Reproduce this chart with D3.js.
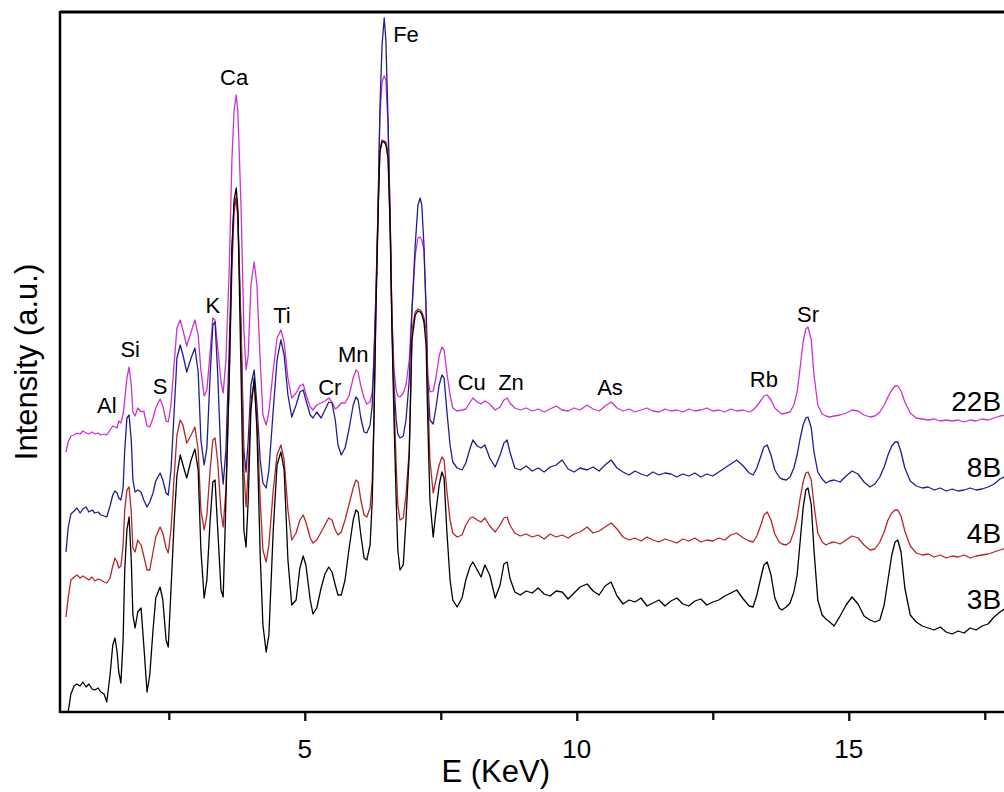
<!DOCTYPE html>
<html>
<head>
<meta charset="utf-8">
<script src="https://cdn.jsdelivr.net/npm/d3@7"></script>
<style>
  html, body { margin: 0; padding: 0; background: #ffffff; }
  svg text { font-family: "Liberation Sans", Arial, Helvetica, sans-serif; fill: #000; }
</style>
</head>
<body>
<svg id="chart" width="1004" height="792"></svg>
<script>
// XRF spectra of four samples, stacked with a vertical offset (intensity in arbitrary units)

// Energy channels (keV), shared by all four spectra
const energy = [
  0.61,0.65,0.70,0.76,0.81,0.87,0.92,0.98,1.03,1.09,
  1.14,1.20,1.25,1.31,1.36,1.42,1.47,1.51,1.55,1.58,
  1.62,1.66,1.69,1.73,1.77,1.81,1.84,1.88,1.93,1.99,
  2.04,2.10,2.15,2.21,2.26,2.34,2.39,2.45,2.49,2.54,
  2.60,2.65,2.71,2.76,2.83,2.91,2.98,3.04,3.09,3.15,
  3.20,3.26,3.31,3.35,3.40,3.46,3.50,3.55,3.61,3.66,
  3.70,3.74,3.77,3.83,3.88,3.92,3.96,4.01,4.07,4.12,
  4.18,4.23,4.29,4.34,4.42,4.49,4.56,4.62,4.69,4.76,
  4.84,4.91,4.97,5.02,5.10,5.15,5.22,5.30,5.37,5.44,
  5.50,5.56,5.61,5.67,5.74,5.81,5.89,5.94,5.98,6.03,
  6.09,6.14,6.20,6.24,6.27,6.31,6.35,6.38,6.42,6.46,
  6.49,6.53,6.57,6.60,6.64,6.68,6.71,6.75,6.81,6.86,
  6.92,6.97,7.03,7.08,7.12,7.15,7.19,7.23,7.26,7.30,
  7.36,7.41,7.47,7.52,7.56,7.61,7.67,7.72,7.80,7.89,
  7.96,8.04,8.09,8.17,8.24,8.31,8.40,8.50,8.59,8.66,
  8.72,8.77,8.86,8.96,9.07,9.18,9.29,9.40,9.51,9.62,
  9.73,9.84,9.95,10.06,10.19,10.30,10.41,10.52,10.63,10.74,
  10.85,10.96,11.07,11.18,11.29,11.40,11.51,11.62,11.73,11.84,
  11.95,12.06,12.17,12.28,12.39,12.50,12.61,12.72,12.83,12.94,
  13.06,13.17,13.24,13.31,13.39,13.44,13.50,13.57,13.64,13.72,
  13.77,13.85,13.92,13.99,14.05,14.10,14.16,14.21,14.25,14.31,
  14.36,14.43,14.51,14.58,14.65,14.73,14.84,14.95,15.06,15.17,
  15.28,15.39,15.48,15.57,15.65,15.72,15.79,15.85,15.90,15.96,
  16.03,16.13,16.24,16.35,16.46,16.57,16.68,16.79,16.90,17.01,
  17.12,17.23,17.34,17.45,17.56,17.67,17.78,17.89,18.00
];

// Sample 22B (top trace)
const counts22B = [
  260,270,276,277,279,278,281,279,278,280,
  278,279,277,278,277,282,286,285,284,291,
  289,298,312,334,345,327,300,296,304,300,
  301,286,285,294,304,313,306,291,290,307,
  350,384,392,382,366,380,392,377,342,316,
  322,360,394,392,364,330,319,352,442,552,
  602,617,600,502,382,342,357,427,450,427,
  352,297,287,300,342,374,382,370,334,314,
  319,326,328,318,305,302,307,309,311,314,
  310,303,305,309,309,316,334,342,340,326,
  314,308,310,320,352,422,512,594,630,636,
  632,587,492,400,342,322,316,315,319,327,
  352,402,457,474,475,472,462,402,337,320,
  321,334,356,365,362,340,317,304,301,302,
  303,310,314,310,308,311,308,302,305,312,
  314,309,304,302,304,301,303,300,303,306,
  302,301,304,302,307,303,301,306,310,304,
  301,303,300,302,304,301,300,303,301,302,
  300,303,301,302,304,301,302,300,303,301,
  302,300,302,306,312,316,317,312,304,300,
  298,299,300,307,320,342,370,383,385,372,
  337,307,298,296,295,296,297,299,302,301,
  297,295,296,300,307,315,322,326,326,321,
  310,299,294,293,292,293,291,292,291,292,
  290,292,291,293,292,294,296,297,298
];

// Sample 8B
const counts8B = [
  160,184,198,201,204,199,203,205,200,202,
  199,200,197,196,195,206,217,221,219,214,
  212,224,262,294,297,272,232,220,222,220,
  212,205,210,219,231,239,232,219,217,242,
  302,354,367,357,340,354,364,340,272,247,
  264,337,387,390,337,252,228,262,362,462,
  507,514,497,382,262,240,272,327,342,307,
  252,229,224,242,302,352,372,357,317,295,
  307,320,322,312,297,294,300,294,302,310,
  309,292,267,257,264,282,307,315,312,294,
  280,279,287,307,352,422,512,602,667,694,
  672,592,492,397,327,292,278,274,276,292,
  332,402,467,507,514,507,467,402,332,292,
  288,304,327,337,334,302,267,250,244,242,
  249,264,272,266,264,267,254,245,257,269,
  272,260,244,242,246,241,244,240,245,247,
  252,243,240,244,242,245,241,247,252,244,
  240,237,241,238,236,240,237,239,238,235,
  238,236,239,235,238,236,240,244,248,252,
  246,239,237,244,257,265,267,257,242,235,
  233,232,235,244,257,272,287,294,295,284,
  260,240,233,229,231,232,230,236,241,238,
  230,225,228,235,245,257,266,270,270,260,
  244,231,226,224,225,222,224,221,223,221,
  222,224,222,223,225,228,233,236,237
];

// Sample 4B
const counts4B = [
  95,114,132,135,137,134,136,134,132,135,
  131,133,132,130,129,134,146,154,150,144,
  146,167,202,222,225,200,164,160,172,167,
  156,142,142,160,175,185,179,164,159,182,
  237,277,292,287,269,277,285,262,202,182,
  197,242,272,274,250,200,185,222,332,442,
  500,515,492,372,242,205,242,312,329,292,
  212,162,150,167,222,257,267,252,202,172,
  179,192,197,190,174,169,172,180,187,194,
  192,182,177,180,192,207,224,232,230,212,
  197,195,204,232,292,412,507,562,572,571,
  570,560,487,394,312,247,207,192,194,217,
  262,382,400,403,402,400,394,382,322,252,
  219,232,247,255,252,222,192,179,175,177,
  187,194,195,192,190,194,186,180,187,194,
  195,187,179,176,178,175,177,173,178,175,
  177,174,178,180,185,179,181,185,189,183,
  175,172,174,171,175,172,170,173,171,169,
  173,171,174,170,172,171,174,172,177,179,
  174,171,170,176,188,197,200,192,178,170,
  168,167,170,180,194,212,230,239,240,232,
  207,179,170,167,169,170,168,172,176,174,
  167,162,163,170,180,192,199,202,202,196,
  181,166,159,157,158,155,157,154,156,155,
  157,154,156,157,158,160,162,164,164
];

// Sample 3B (bottom trace)
const counts3B = [
  0,0,18,26,28,26,30,25,28,23,
  22,24,20,18,10,37,67,74,60,40,
  29,72,142,182,195,152,97,84,100,104,
  67,20,37,82,114,125,112,72,65,122,
  192,237,257,247,234,252,263,242,162,114,
  132,192,230,232,182,122,115,212,332,462,
  512,524,502,332,182,165,212,302,334,282,
  157,87,60,77,182,247,260,242,152,107,
  112,144,156,147,112,98,104,124,138,145,
  140,127,117,117,132,162,192,202,200,177,
  154,152,167,212,287,407,504,560,570,570,
  567,554,482,387,292,212,162,142,147,192,
  257,372,397,401,400,398,390,367,292,212,
  175,200,227,240,234,182,132,112,105,114,
  132,146,150,142,135,147,137,114,127,148,
  150,134,120,117,121,119,124,118,116,121,
  120,113,119,125,128,121,117,126,130,116,
  108,112,110,114,106,109,112,106,111,114,
  108,106,111,113,107,110,112,116,119,122,
  113,106,105,117,136,147,150,137,114,104,
  102,105,109,120,137,167,204,222,224,207,
  162,112,97,93,90,86,96,107,115,108,
  96,92,90,92,107,132,157,170,172,160,
  124,97,90,86,84,82,85,80,78,81,
  79,84,82,86,88,95,100,104,107
];

// Sample names, drawing order and the intensity level of each name tag
const sampleNames  = ["22B", "8B", "4B", "3B"];
const sampleTagLevel = [301, 235, 169, 103];
const sampleTagEnergy = 17.80;

// Element annotations: symbol, energy (keV) and intensity level of the label
const elementNames  = ["Al", "Si", "S", "K", "Ca", "Ti", "Cr", "Mn", "Fe", "Cu", "Zn", "As", "Rb", "Sr"];
const elementEnergy = [1.36, 1.79, 2.34, 3.31, 3.70, 4.58, 5.46, 5.89, 6.86, 8.07, 8.79, 10.61, 13.44, 14.25];
const elementLevel  = [299, 355, 318, 399, 627, 389, 317, 350, 670, 322, 322, 317, 325, 390];

// Axis ticks
const majorTicks = [5, 10, 15];
const minorTicks = [2.5, 7.5, 12.5, 17.5];

// ---------------------------------------------------------------
const countsBySample = { "22B": counts22B, "8B": counts8B, "4B": counts4B, "3B": counts3B };
const colorBySample  = { "22B": "#cc33cc", "8B": "#1f1f8c", "4B": "#b3262a", "3B": "#000000" };

const svg = d3.select("#chart");
const plot = { left: 60, top: 12, bottom: 712, right: 1039.2 };

const x = d3.scaleLinear().domain([0.5, 18.5]).range([plot.left, plot.right]);
const y = d3.scaleLinear().domain([0, 700]).range([plot.bottom, plot.top]);

svg.append("defs").append("clipPath").attr("id", "plotClip")
  .append("rect")
  .attr("x", plot.left).attr("y", plot.top)
  .attr("width", plot.right - plot.left).attr("height", plot.bottom - plot.top);

// spectra
const line = d3.line()
  .x(d => x(d[0]))
  .y(d => y(d[1]));

const traces = svg.append("g").attr("clip-path", "url(#plotClip)");
sampleNames.forEach(name => {
  const vals = countsBySample[name];
  const n = Math.min(energy.length, vals.length);
  const pts = d3.range(n).map(i => [energy[i], vals[i]]);
  traces.append("path")
    .datum(pts)
    .attr("fill", "none")
    .attr("stroke", colorBySample[name])
    .attr("stroke-width", 1.3)
    .attr("stroke-linejoin", "round")
    .attr("d", line);
});

// frame: left, bottom and top edges
const frame = svg.append("g").attr("stroke", "#000").attr("fill", "none");
frame.append("line").attr("x1", plot.left).attr("x2", plot.left)
  .attr("y1", plot.top - 1).attr("y2", plot.bottom + 1).attr("stroke-width", 2.5);
frame.append("line").attr("x1", plot.left).attr("x2", 1004)
  .attr("y1", plot.bottom).attr("y2", plot.bottom).attr("stroke-width", 2.5);
frame.append("line").attr("x1", plot.left).attr("x2", 1004)
  .attr("y1", plot.top).attr("y2", plot.top).attr("stroke-width", 3);

// x axis ticks
const axisMajor = d3.axisBottom(x).tickValues(majorTicks).tickSize(9).tickFormat("");
const axisMinor = d3.axisBottom(x).tickValues(minorTicks).tickSize(8).tickFormat("");
[axisMajor, axisMinor].forEach(ax => {
  const g = svg.append("g").attr("transform", `translate(0,${plot.bottom})`).call(ax);
  g.select(".domain").remove();
  g.selectAll(".tick line").attr("stroke", "#000").attr("stroke-width", 2.2);
});

svg.append("g").selectAll("text")
  .data(majorTicks)
  .join("text")
  .attr("x", d => x(d))
  .attr("y", 758)
  .attr("text-anchor", "middle")
  .attr("font-size", 26)
  .text(d => d);

// axis titles
svg.append("text")
  .attr("x", x(8.51)).attr("y", 782)
  .attr("text-anchor", "middle")
  .attr("font-size", 31)
  .text("E (KeV)");

svg.append("text")
  .attr("transform", "translate(37,362) rotate(-90)")
  .attr("text-anchor", "middle")
  .attr("font-size", 31)
  .text("Intensity (a.u.)");

// element labels
svg.append("g").selectAll("text")
  .data(elementNames)
  .join("text")
  .attr("x", (d, i) => x(elementEnergy[i]))
  .attr("y", (d, i) => y(elementLevel[i]))
  .attr("text-anchor", "middle")
  .attr("font-size", 22)
  .text(d => d);

// sample tags at the right end of each spectrum
svg.append("g").selectAll("text")
  .data(sampleNames)
  .join("text")
  .attr("x", x(sampleTagEnergy))
  .attr("y", (d, i) => y(sampleTagLevel[i]))
  .attr("text-anchor", "end")
  .attr("font-size", 28)
  .text(d => d);
</script>
</body>
</html>
